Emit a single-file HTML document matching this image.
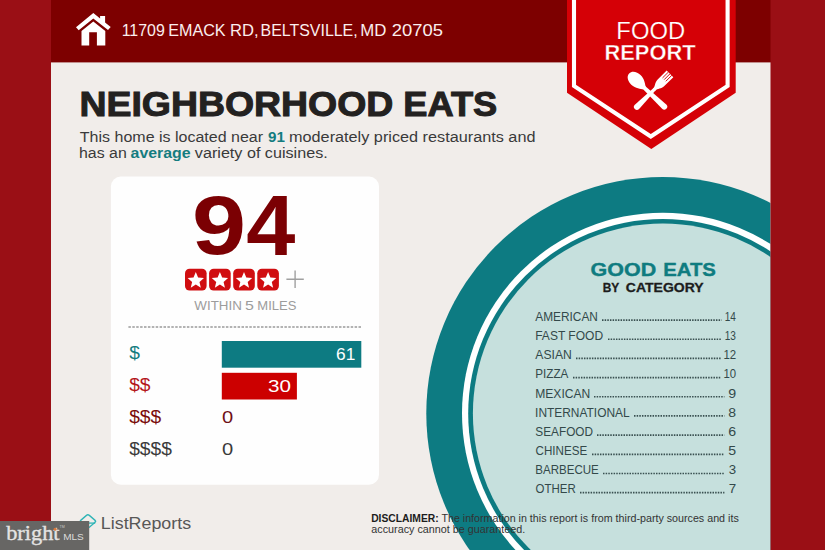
<!DOCTYPE html>
<html>
<head>
<meta charset="utf-8">
<title>Food Report</title>
<style>
html,body{margin:0;padding:0;background:#f1edea;}
body{width:825px;height:550px;overflow:hidden;font-family:"Liberation Sans",sans-serif;}
svg{display:block;}
text{font-family:"Liberation Sans",sans-serif;}
.serif{font-family:"Liberation Serif",serif;}
</style>
</head>
<body>
<svg width="825" height="550" viewBox="0 0 825 550">
  <defs>
    <clipPath id="panel"><rect x="51" y="0" width="719.5" height="550"/></clipPath>
  </defs>

  <!-- page background -->
  <rect x="0" y="0" width="825" height="550" fill="#f1edea"/>

  <!-- teal plate -->
  <g clip-path="url(#panel)">
    <circle cx="662.8" cy="413.5" r="236.5" fill="#0d7b82"/>
    <circle cx="662.8" cy="413.5" r="200.8" fill="#ffffff"/>
    <circle cx="662.8" cy="413.5" r="194.6" fill="#0d7b82"/>
    <circle cx="662.8" cy="413.5" r="189.9" fill="#c6e0dd"/>
  </g>

  <!-- header -->
  <rect x="51" y="0" width="720" height="62.4" fill="#7d0000"/>
  <!-- side bars -->
  <rect x="0" y="0" width="51" height="550" fill="#9a0f15"/>
  <rect x="770.5" y="0" width="54.5" height="550" fill="#9a0f15"/>

  <!-- house icon -->
  <g fill="#ffffff">
    <path d="M76 27.3 L93.3 12.9 L100.1 18.5 L100.1 16.1 L105.1 16.1 L105.1 22.5 L110.7 26.9 L108 30 L93.3 18.6 L78.7 30.3 Z"/>
    <path d="M81.5 30.9 L93.3 21.5 L105.3 30.9 L105.3 45.6 L96.9 45.6 L96.9 32.3 L89.2 32.3 L89.2 45.6 L81.5 45.6 Z"/>
  </g>
  <g font-size="16.5" fill="#fbeeee">
    <text id="ad0" x="121.64" y="35.8" textLength="43.15" lengthAdjust="spacingAndGlyphs">11709</text>
    <text id="ad1" x="168.21" y="35.8" textLength="57.41" lengthAdjust="spacingAndGlyphs">EMACK</text>
    <text id="ad2" x="229.94" y="35.8" textLength="28.59" lengthAdjust="spacingAndGlyphs">RD,</text>
    <text id="ad3" x="260.60" y="35.8" textLength="97.09" lengthAdjust="spacingAndGlyphs">BELTSVILLE,</text>
    <text id="ad4" x="360.35" y="35.8" textLength="26.12" lengthAdjust="spacingAndGlyphs">MD</text>
    <text id="ad5" x="391.76" y="35.8" textLength="51.15" lengthAdjust="spacingAndGlyphs">20705</text>
  </g>

  <!-- ribbon -->
  <path d="M567 0 L735.7 0 L735.7 92.8 L651.3 149 L567 92.8 Z" fill="#d50006"/>
  <path d="M574 0 L574 86 L650.8 136.5 L727.6 86 L727.6 0" fill="none" stroke="#ffffff" stroke-width="4.1"/>
  <text id="fd0" x="650.74" y="38.9" font-size="23" fill="#ffffff" stroke="#d50006" stroke-width="0.2" text-anchor="middle" textLength="68.75" lengthAdjust="spacingAndGlyphs">FOOD</text>
  <text id="fd1" x="650.03" y="60.1" font-size="22.2" font-weight="bold" fill="#ffffff" stroke="#d50006" stroke-width="0.35" text-anchor="middle" textLength="90.98" lengthAdjust="spacingAndGlyphs">REPORT</text>
  <!-- spoon & fork -->
  <g fill="#ffffff" stroke="none">
    <g transform="translate(650.4,93.6) rotate(-46.5)">
      <path d="M0 -29.3 C4.6 -29.3 6.7 -24 6.7 -20 C6.7 -14 3 -10.5 1.8 -8 L-1.8 -8 C-3 -10.5 -6.7 -14 -6.7 -20 C-6.7 -24 -4.6 -29.3 0 -29.3 Z"/>
      <path d="M-1.8 -9 L1.8 -9 L3 19 A3 3 0 0 1 -3 19 Z"/>
    </g>
    <g transform="translate(650.4,93.4) rotate(45)">
      <path d="M-1.5 -6 L1.5 -6 L3 19 A3 3 0 0 1 -3 19 Z"/>
      <path d="M-4.7 -27.7 L-4.7 -15 C-4.7 -10.5 -1.5 -9 -1.5 -5 L1.5 -5 C1.5 -9 4.7 -10.5 4.7 -15 L4.7 -27.7 Z"/>
      <path d="M-2.35 -28 L-2.35 -19.5 M0 -28 L0 -19.5 M2.35 -28 L2.35 -19.5" stroke="#d50006" stroke-width="0.9" fill="none"/>
    </g>
  </g>

  <!-- heading -->
  <g font-size="34.5" font-weight="bold" fill="#232120" stroke="#232120" stroke-width="1" stroke-linejoin="miter">
    <text x="79.4" y="116.4" textLength="314" lengthAdjust="spacingAndGlyphs">NEIGHBORHOOD</text>
    <text x="403.3" y="116.4" textLength="94" lengthAdjust="spacingAndGlyphs">EATS</text>
  </g>
  <g font-size="15.5" fill="#3a3a3a">
    <text id="st0" x="79.85" y="142.4" textLength="183.17" lengthAdjust="spacingAndGlyphs">This home is located near</text>
    <text id="st1" x="268.01" y="142.4" font-weight="bold" fill="#147c7f" textLength="16.88" lengthAdjust="spacingAndGlyphs">91</text>
    <text id="st2" x="289.02" y="142.4" textLength="246.45" lengthAdjust="spacingAndGlyphs">moderately priced restaurants and</text>
    <text id="st3" x="79.03" y="158.3" textLength="47.71" lengthAdjust="spacingAndGlyphs">has an</text>
    <text id="st4" x="130.60" y="158.3" font-weight="bold" fill="#147c7f" textLength="59.96" lengthAdjust="spacingAndGlyphs">average</text>
    <text id="st5" x="194.86" y="158.3" textLength="132.83" lengthAdjust="spacingAndGlyphs">variety of cuisines.</text>
  </g>

  <!-- card -->
  <rect x="110.9" y="176.5" width="268.1" height="308.3" rx="10" ry="10" fill="#fefefe"/>
  <g font-size="83.5" font-weight="bold" fill="#7b0003">
    <text id="n9" x="192.06" y="253.8" textLength="54.07" lengthAdjust="spacingAndGlyphs">9</text>
    <text id="n4" font-size="85" x="246.18" y="254.7" textLength="49.14" lengthAdjust="spacingAndGlyphs">4</text>
  </g>

  <!-- stars -->
  <g>
    <g>
      <rect x="185" y="268.7" width="21.6" height="21.9" rx="4.6" fill="#d00d10"/>
      <path transform="translate(195.8,280.7)" d="M0.00 -8.60 L2.27 -3.13 L8.18 -2.66 L3.68 1.20 L5.05 6.96 L0.00 3.87 L-5.05 6.96 L-3.68 1.20 L-8.18 -2.66 L-2.27 -3.13 Z" fill="#ffffff"/>
    </g>
    <g transform="translate(24.1,0)">
      <rect x="185" y="268.7" width="21.6" height="21.9" rx="4.6" fill="#d00d10"/>
      <path transform="translate(195.8,280.7)" d="M0.00 -8.60 L2.27 -3.13 L8.18 -2.66 L3.68 1.20 L5.05 6.96 L0.00 3.87 L-5.05 6.96 L-3.68 1.20 L-8.18 -2.66 L-2.27 -3.13 Z" fill="#ffffff"/>
    </g>
    <g transform="translate(48.2,0)">
      <rect x="185" y="268.7" width="21.6" height="21.9" rx="4.6" fill="#d00d10"/>
      <path transform="translate(195.8,280.7)" d="M0.00 -8.60 L2.27 -3.13 L8.18 -2.66 L3.68 1.20 L5.05 6.96 L0.00 3.87 L-5.05 6.96 L-3.68 1.20 L-8.18 -2.66 L-2.27 -3.13 Z" fill="#ffffff"/>
    </g>
    <g transform="translate(72.3,0)">
      <rect x="185" y="268.7" width="21.6" height="21.9" rx="4.6" fill="#d00d10"/>
      <path transform="translate(195.8,280.7)" d="M0.00 -8.60 L2.27 -3.13 L8.18 -2.66 L3.68 1.20 L5.05 6.96 L0.00 3.87 L-5.05 6.96 L-3.68 1.20 L-8.18 -2.66 L-2.27 -3.13 Z" fill="#ffffff"/>
    </g>
    <path d="M286.4 279.3 L303.8 279.3 M295.1 270.6 L295.1 288" stroke="#a0a0a0" stroke-width="1.4" fill="none"/>
  </g>
  <g font-size="13.1" fill="#9c9c9c">
    <text id="wi0" x="194.32" y="310" textLength="47.48" lengthAdjust="spacingAndGlyphs">WITHIN</text>
    <text id="wi1" x="245.00" y="310" textLength="8.86" lengthAdjust="spacingAndGlyphs">5</text>
    <text id="wi2" x="257.31" y="310" textLength="39.09" lengthAdjust="spacingAndGlyphs">MILES</text>
  </g>

  <line x1="128.4" y1="327" x2="361.5" y2="327" stroke="#9b9b9b" stroke-width="1.4" stroke-dasharray="2.5 1.4"/>

  <!-- bars -->
  <rect x="221.8" y="341" width="139.5" height="26.7" fill="#0d7b82"/>
  <rect x="221.8" y="372.8" width="75.1" height="26.7" fill="#cc0000"/>
  <text x="355.3" y="359.7" font-size="17.3" fill="#ffffff" text-anchor="end">61</text>
  <text x="291" y="391.6" font-size="17" fill="#ffffff" text-anchor="end" textLength="23" lengthAdjust="spacingAndGlyphs">30</text>
  <text x="221.9" y="423.2" font-size="17" fill="#6e0f16" textLength="11.2" lengthAdjust="spacingAndGlyphs">0</text>
  <text x="221.9" y="455" font-size="17" fill="#3a3a3a" textLength="11.2" lengthAdjust="spacingAndGlyphs">0</text>

  <text x="129.2" y="359.4" font-size="19.2" fill="#147c7f">$</text>
  <text x="129.2" y="391.2" font-size="19.2" fill="#b4161b">$$</text>
  <text x="129.2" y="423" font-size="19.2" fill="#7a0c0c">$$$</text>
  <text x="129.2" y="454.6" font-size="19.2" fill="#3a3a3a">$$$$</text>

  <!-- good eats -->
  <g font-size="19.2" font-weight="bold" fill="#0f7c80" stroke="#0f7c80" stroke-width="0.4">
    <text id="ge0" x="590.55" y="276.4" textLength="65.61" lengthAdjust="spacingAndGlyphs">GOOD</text>
    <text id="ge1" x="663.21" y="276.4" textLength="52.71" lengthAdjust="spacingAndGlyphs">EATS</text>
  </g>
  <g font-size="13" font-weight="bold" fill="#1c1c1c" stroke="#1c1c1c" stroke-width="0.3">
    <text id="bc0" x="602.74" y="292.4" textLength="16.58" lengthAdjust="spacingAndGlyphs">BY</text>
    <text id="bc1" x="625.87" y="292.4" textLength="77.76" lengthAdjust="spacingAndGlyphs">CATEGORY</text>
  </g>

  <g font-size="12.4" fill="#33494a" id="list">
    <text id="lb0" x="535.30" y="320.80" textLength="62.63" lengthAdjust="spacingAndGlyphs">AMERICAN</text>
    <text id="nm0" x="735.90" y="320.80" text-anchor="end" textLength="11.17" lengthAdjust="spacingAndGlyphs">14</text>
    <text id="lb1" x="535.19" y="339.98" textLength="67.91" lengthAdjust="spacingAndGlyphs">FAST FOOD</text>
    <text id="nm1" x="735.94" y="339.98" text-anchor="end" textLength="11.23" lengthAdjust="spacingAndGlyphs">13</text>
    <text id="lb2" x="535.30" y="359.16" textLength="36.46" lengthAdjust="spacingAndGlyphs">ASIAN</text>
    <text id="nm2" x="736.12" y="359.16" text-anchor="end" textLength="12.74" lengthAdjust="spacingAndGlyphs">12</text>
    <text id="lb3" x="535.23" y="378.34" textLength="33.15" lengthAdjust="spacingAndGlyphs">PIZZA</text>
    <text id="nm3" x="736.04" y="378.34" text-anchor="end" textLength="12.65" lengthAdjust="spacingAndGlyphs">10</text>
    <text id="lb4" x="535.20" y="397.52" textLength="55.16" lengthAdjust="spacingAndGlyphs">MEXICAN</text>
    <text id="nm4" x="736.14" y="397.52" text-anchor="end" textLength="7.92" lengthAdjust="spacingAndGlyphs">9</text>
    <text id="lb5" x="535.08" y="416.70" textLength="94.54" lengthAdjust="spacingAndGlyphs">INTERNATIONAL</text>
    <text id="nm5" x="736.15" y="416.70" text-anchor="end" textLength="7.80" lengthAdjust="spacingAndGlyphs">8</text>
    <text id="lb6" x="535.35" y="435.88" textLength="57.64" lengthAdjust="spacingAndGlyphs">SEAFOOD</text>
    <text id="nm6" x="736.14" y="435.88" text-anchor="end" textLength="7.90" lengthAdjust="spacingAndGlyphs">6</text>
    <text id="lb7" x="535.52" y="455.06" textLength="51.72" lengthAdjust="spacingAndGlyphs">CHINESE</text>
    <text id="nm7" x="736.14" y="455.06" text-anchor="end" textLength="7.86" lengthAdjust="spacingAndGlyphs">5</text>
    <text id="lb8" x="535.24" y="474.24" textLength="63.54" lengthAdjust="spacingAndGlyphs">BARBECUE</text>
    <text id="nm8" x="736.14" y="474.24" text-anchor="end" textLength="7.38" lengthAdjust="spacingAndGlyphs">3</text>
    <text id="lb9" x="535.59" y="493.42" textLength="40.18" lengthAdjust="spacingAndGlyphs">OTHER</text>
    <text id="nm9" x="736.20" y="493.42" text-anchor="end" textLength="7.42" lengthAdjust="spacingAndGlyphs">7</text>
  </g>
  <g stroke="#3a5051" stroke-width="1.7" stroke-dasharray="1.5 1.15" fill="none">
    <line x1="602" y1="320.05" x2="721.6" y2="320.05"/>
    <line x1="608" y1="339.23" x2="721.6" y2="339.23"/>
    <line x1="576" y1="358.41" x2="721.6" y2="358.41"/>
    <line x1="573" y1="377.59" x2="720.3" y2="377.59"/>
    <line x1="594" y1="396.77" x2="724.4" y2="396.77"/>
    <line x1="634" y1="415.95" x2="724.4" y2="415.95"/>
    <line x1="597" y1="435.13" x2="724.4" y2="435.13"/>
    <line x1="592" y1="454.31" x2="724.4" y2="454.31"/>
    <line x1="603" y1="473.49" x2="724.4" y2="473.49"/>
    <line x1="580" y1="492.67" x2="724.4" y2="492.67"/>
  </g>

  <!-- disclaimer -->
  <g font-size="10.6" fill="#333333">
    <text id="dc0" x="371.17" y="522.4" font-weight="bold" fill="#1c1c1c" textLength="67.47" lengthAdjust="spacingAndGlyphs">DISCLAIMER:</text>
    <text id="dc1" x="441.45" y="522.4" textLength="146.60" lengthAdjust="spacingAndGlyphs">The information in this report is</text>
    <text id="dc2" x="591.21" y="522.4" textLength="147.54" lengthAdjust="spacingAndGlyphs">from third-party sources and its</text>
    <text id="dc3" x="371.36" y="533.4" textLength="153.77" lengthAdjust="spacingAndGlyphs">accuracy cannot be guaranteed.</text>
  </g>

  <!-- ListReports logo -->
  <g transform="translate(87.9,521.3) scale(1,0.86)">
    <rect x="-5.9" y="-5.9" width="11.8" height="11.8" rx="1.8" fill="none" stroke="#2fb4b6" stroke-width="1.55" transform="rotate(45)"/>
  </g>
  <path d="M89 523.1 L95.2 523.1" stroke="#2fb4b6" stroke-width="1.3" fill="none"/>
  <text id="lr0" x="100.83" y="528.5" font-size="16.3" fill="#585757" textLength="90.33" lengthAdjust="spacingAndGlyphs">ListReports</text>

  <!-- bright MLS watermark -->
  <rect x="0" y="521" width="89.2" height="29" fill="#676664"/>
  <text x="6.2" y="539.9" font-size="20.6" fill="#e4e3e2" stroke="#e4e3e2" stroke-width="0.35" textLength="53.4" lengthAdjust="spacingAndGlyphs" style="font-family:'Liberation Serif',serif">bright</text>
  <circle cx="55" cy="529.2" r="1.5" fill="#d9773a"/>
  <text x="63.2" y="539.9" font-size="9.4" fill="#dcdcdb" textLength="20.6" lengthAdjust="spacingAndGlyphs">MLS</text>
  <text x="59.6" y="528.2" font-size="3.6" fill="#c8c8c8">TM</text>
</svg>
</body>
</html>
